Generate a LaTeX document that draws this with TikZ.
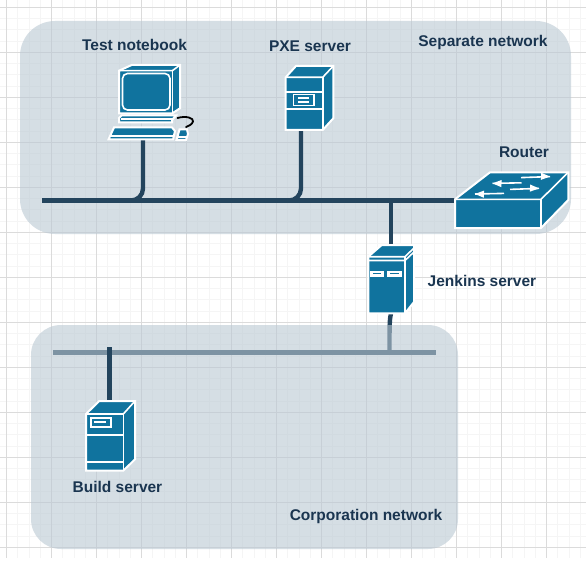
\documentclass[tikz,border=0pt]{standalone}
\usepackage{fontspec}
\setmainfont{Liberation Sans}
\definecolor{regionfill}{HTML}{BAC8D3}
\definecolor{linkcol}{HTML}{23445D}
\definecolor{labelcol}{HTML}{1A3550}
\definecolor{iconblue}{HTML}{10739E}
\tikzset{
  gridminor/.style={draw=black!4,line width=0.9pt},
  gridmajor/.style={draw=black!14,line width=0.9pt},
  region/.style={fill=regionfill,fill opacity=0.6,draw=none},
  link/.style={draw=linkcol,line width=4.4pt},
  iconface/.style={fill=iconblue,draw=white,line width=2pt,line join=miter},
  iconline/.style={draw=white,line width=1.6pt},
  lbl/.style={font=\fontsize{15.5}{18}\selectfont\bfseries,text=labelcol,inner sep=0pt,anchor=center},
}
\begin{document}
\begin{tikzpicture}[x=1pt,y=-1pt]
\useasboundingbox (0,0) rectangle (586,567);
\fill[white] (0,0) rectangle (586,567);
% grid
\foreach \i in {-1,...,52}{
  \pgfmathsetmacro\gx{6.5+11.25*\i}
  \pgfmathsetmacro\gy{7.3+11.25*\i}
  \ifdim\gx pt<586pt \ifdim\gx pt>0pt \draw[gridminor] (\gx,0) -- (\gx,558); \fi\fi
  \ifdim\gy pt<558pt \ifdim\gy pt>0pt \draw[gridminor] (0,\gy) -- (586,\gy); \fi\fi
}
\foreach \i in {0,...,12}{
  \pgfmathsetmacro\gx{6.5+45*\i}
  \pgfmathsetmacro\gy{7.3+45*\i}
  \draw[gridmajor] (\gx,0) -- (\gx,558);
  \draw[gridmajor] (0,\gy) -- (586,\gy);
}
% named anchors
\coordinate (busLeft) at (42,200.5);
\coordinate (busRight) at (460,200.5);
\coordinate (corpLeft) at (53,352.5);
\coordinate (corpRight) at (436,352.5);
\coordinate (nbPort) at (143,140);
\coordinate (pxePort) at (301,130);
\coordinate (jenkinsTop) at (391,250);
\coordinate (jenkinsBottom) at (391,313);
\coordinate (busJenkins) at (391,200.5);
\coordinate (corpJenkins) at (389.5,352.5);
\coordinate (buildTop) at (109.5,347);
\coordinate (buildPort) at (109.5,407);
% links under the corporation region
\draw[link] (corpLeft) -- (corpRight);
\draw[link] (jenkinsBottom) .. controls (389.5,320) and (389.5,325) .. (corpJenkins);
% regions
\path[region,rounded corners=35pt] (20,21) rectangle (571,234);
\path[region,rounded corners=30pt] (31,325) rectangle (458,549);
% links
\draw[link] (busLeft) -- (busRight);
\draw[link,rounded corners=12pt] (nbPort) -- (143,200.5) -- (120,200.5);
\draw[link,rounded corners=12pt] (pxePort) -- (301,200.5) -- (278,200.5);
\draw[link] (busJenkins) -- (jenkinsTop);
\draw[link] (buildTop) -- (buildPort);
% notebook
\draw[iconface] (119,70.7) -- (131.7,65) -- (180,65) -- (180,108.3) -- (172.3,113.3) -- (119,113.3) -- cycle;
\draw[iconline] (119,70.7) -- (172.3,70.7) -- (180,65);
\draw[iconline] (172.3,70.7) -- (172.3,113.3);
\draw[iconline,rounded corners=5pt] (122.5,73.5) rectangle (170,110);
\draw[iconface] (121.5,115.5) -- (176,115.5) -- (172,120) -- (172,122.5) -- (119,122.5) -- (119,118) -- cycle;
\draw[iconline] (121,119) -- (172,119);
\draw[iconface] (114,127.5) -- (172,127.5) -- (175,131) -- (173,139.5) -- (108.5,139.5) -- cycle;
\draw[iconline] (110,136) -- (174,136);
\draw[iconface] (179.5,129.5) -- (187,129.5) -- (188,134) -- (186,140) -- (176.5,140) -- cycle;
\draw[iconline] (178,137) -- (187,137);
\draw[black,line width=1.8pt,line cap=round] (177.5,118) .. controls (186,115.5) and (194,118) .. (193,121.5) .. controls (192,125) and (188,126) .. (186,127);
% PXE server
\draw[iconface] (285.7,77.3) -- (296,66) -- (333.3,66) -- (333.3,118.3) -- (322.7,130) -- (285.7,130) -- cycle;
\draw[iconline] (285.7,77.3) -- (322.7,77.3) -- (333.3,66);
\draw[iconline] (322.7,77.3) -- (322.7,130);
\draw[iconline] (285.7,92.3) -- (322.7,92.3);
\draw[iconline] (285.7,109.3) -- (322.7,109.3);
\draw[iconline] (293.5,94.5) rectangle (314,105.5);
\fill[white] (298.3,97.3) rectangle (309,99.3);
\fill[white] (298.3,100.7) rectangle (309,103.2);
% Jenkins server
\draw[iconface] (368.3,256.7) -- (381.7,245) -- (414,245) -- (414,302) -- (405,313.3) -- (368.3,313.3) -- cycle;
\draw[iconline] (368.3,256.7) -- (405,256.7) -- (414,248);
\draw[iconline] (368.3,260.5) -- (405,260.5) -- (414,252);
\draw[iconline] (405,256.7) -- (405,313.3);
\fill[white] (370,271) rectangle (384,276.5);
\fill[white] (386.7,271) rectangle (402.3,276.5);
\fill[iconblue] (373,273.2) rectangle (381,274.4);
\fill[iconblue] (390,273.2) rectangle (399,274.4);
% build server
\draw[iconface] (86,414) -- (99.3,401) -- (135,401) -- (135,459.3) -- (123.3,470.7) -- (86,470.7) -- cycle;
\draw[iconline] (86,414) -- (123.3,414) -- (135,401);
\draw[iconline] (123.3,414) -- (123.3,470.7);
\draw[iconline] (86,435) -- (123.3,435);
\draw[iconline] (86,461.7) -- (123.3,461.7);
\draw[iconline] (90.7,417.7) rectangle (110.7,426.7);
\fill[white] (94,421) rectangle (106,423.4);
% router
\draw[iconface] (455,199.3) -- (490,172.3) -- (568.3,172.3) -- (568.3,200) -- (541,228) -- (455,228) -- cycle;
\draw[iconline] (455,199.3) -- (541,199.3) -- (568.3,172.3);
\draw[iconline] (541,199.3) -- (541,228);
\foreach \a/\b/\c/\d in {521/177.6/550/176.6,521.5/182.8/492.5/183.4,510/189.4/539/188.4,504/193.4/475/194}{
  \fill[white,rotate around={atan2(\d-\b,\c-\a):(\c,\d)}] (\c,\d) -- (\c-9,\d-3.6) -- (\c-9,\d+3.6) -- cycle;
  \draw[white,line width=1.6pt] (\a,\b) -- (\c,\d);
}
% labels
\node[lbl] (labNotebook) at (134.5,45) {Test notebook};
\node[lbl] (labPxe) at (310,46) {PXE server};
\node[lbl] (labSeparate) at (483,42) {Separate network};
\node[lbl] (labRouter) at (524,152) {Router};
\node[lbl] (labJenkins) at (482,281) {Jenkins server};
\node[lbl] (labBuild) at (117.5,487) {Build server};
\node[lbl] (labCorp) at (366,516.5) {Corporation network};
\end{tikzpicture}
\end{document}
